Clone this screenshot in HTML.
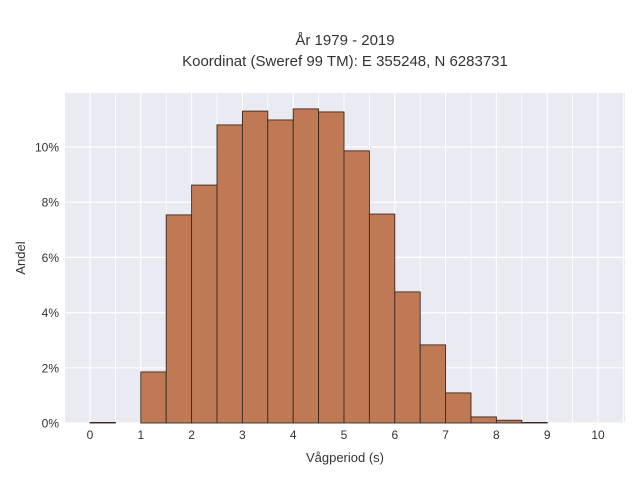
<!DOCTYPE html>
<html><head><meta charset="utf-8"><style>
body{margin:0;background:#fff;font-family:"Liberation Sans",sans-serif}
text{font-family:"Liberation Sans",sans-serif;fill:#333}
</style></head><body>
<svg id="chart" width="640" height="480">
<text x="345" y="45" text-anchor="middle" font-size="15">År 1979 - 2019</text>
<text x="345" y="66" text-anchor="middle" font-size="15">Koordinat (Sweref 99 TM): E 355248, N 6283731</text>
<rect x="65" y="93" width="560" height="330" fill="#eaeaf2"/>
<g id="grid"></g><g id="bars"></g><g id="ticks"></g>
<text x="345" y="462" text-anchor="middle" font-size="13">Vågperiod (s)</text>
<text transform="translate(25,258) rotate(-90)" text-anchor="middle" font-size="13">Andel</text>
</svg>
<script>
const binStarts=[0,0.5,1,1.5,2,2.5,3,3.5,4,4.5,5,5.5,6,6.5,7,7.5,8,8.5,9,9.5];
const shares=[0.02,0,1.85,7.54,8.62,10.8,11.3,10.98,11.38,11.27,9.86,7.57,4.75,2.83,1.09,0.22,0.1,0.02,0,0];
const xTicks=[0,1,2,3,4,5,6,7,8,9,10];
const yTicks=[0,2,4,6,8,10];
const binWidth=0.5;
const NS='http://www.w3.org/2000/svg';
const X=v=>90+v*50.8, Y=v=>423-v*27.6;
const grid=document.getElementById('grid'),bars=document.getElementById('bars'),ticks=document.getElementById('ticks');
for(let v=0;v<=10.5;v+=0.5){const l=document.createElementNS(NS,'line');
l.setAttribute('x1',X(v));l.setAttribute('x2',X(v));l.setAttribute('y1',93);l.setAttribute('y2',423);
l.setAttribute('stroke','#fff');l.setAttribute('stroke-width',v%1===0?1.2:0.8);

grid.appendChild(l);}
yTicks.forEach(v=>{const l=document.createElementNS(NS,'line');
l.setAttribute('x1',65);l.setAttribute('x2',625);l.setAttribute('y1',Y(v));l.setAttribute('y2',Y(v));
l.setAttribute('stroke','#fff');l.setAttribute('stroke-width',1.2);

grid.appendChild(l);
const t=document.createElementNS(NS,'text');t.setAttribute('x',59);t.setAttribute('y',Y(v)+4.5);
t.setAttribute('text-anchor','end');t.setAttribute('font-size','12');t.textContent=v+'%';

ticks.appendChild(t);});
xTicks.forEach(v=>{const t=document.createElementNS(NS,'text');t.setAttribute('x',X(v));t.setAttribute('y',439);
t.setAttribute('text-anchor','middle');t.setAttribute('font-size','12');t.textContent=v;

ticks.appendChild(t);});
binStarts.forEach((b,i)=>{if(shares[i]<=0)return;const r=document.createElementNS(NS,'rect');
r.setAttribute('x',X(b));r.setAttribute('width',X(b+binWidth)-X(b));
r.setAttribute('y',Y(shares[i]));r.setAttribute('height',423-Y(shares[i]));
r.setAttribute('fill','#bf7a55');r.setAttribute('stroke','#3a2a20');r.setAttribute('stroke-width','0.9');

bars.appendChild(r);});
</script>
</body></html>
